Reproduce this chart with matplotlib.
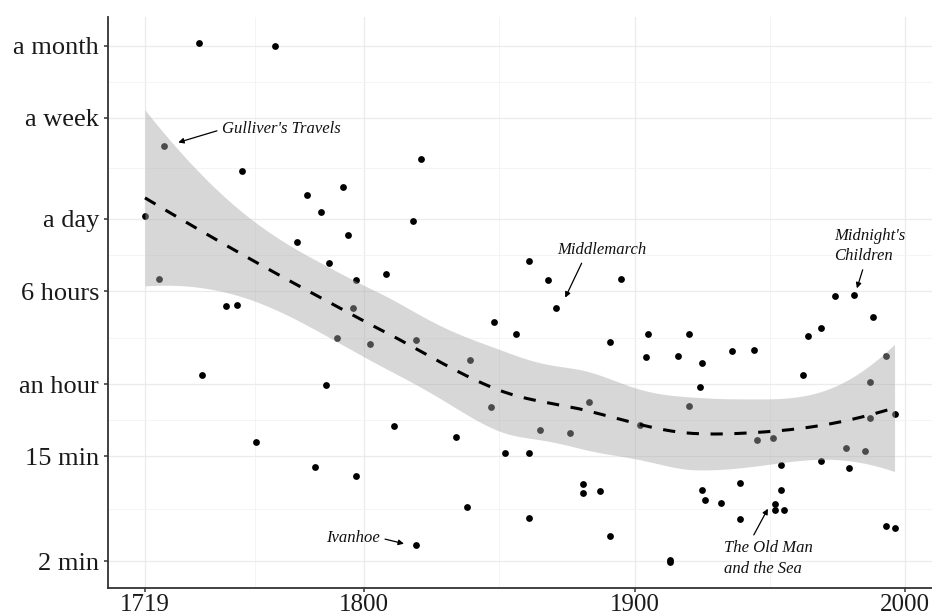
import numpy as np
import matplotlib
matplotlib.use("Agg")
import matplotlib.pyplot as plt
from matplotlib.ticker import FixedLocator, FixedFormatter, NullFormatter

# ---------------- data ----------------
years = [1719, 1724, 1726, 1739, 1740, 1749, 1753, 1755, 1760, 1767,
         1775, 1779, 1782, 1784, 1786, 1787, 1790, 1792, 1794, 1796,
         1797, 1797, 1802, 1808, 1811, 1818, 1819, 1819, 1821, 1834,
         1838, 1839, 1847, 1848, 1852, 1856, 1861, 1861, 1861, 1865,
         1868, 1871, 1876, 1881, 1881, 1883, 1887, 1891, 1891, 1895,
         1902, 1904, 1905, 1913, 1913, 1916, 1920, 1920, 1924, 1925,
         1925, 1926, 1932, 1936, 1939, 1939, 1944, 1945, 1951, 1952,
         1952, 1954, 1954, 1955, 1962, 1964, 1969, 1969, 1974, 1978,
         1979, 1981, 1985, 1987, 1987, 1988, 1993, 1993, 1996, 1996]
minutes = [1520, 455, 5800, 42500, 71, 270, 274, 3610, 19.7, 40100,
           925, 2280, 12.3, 1650, 59.6, 612, 145, 2670, 1050, 262,
           441, 10.3, 130, 496, 26.6, 1380, 141, 2.73, 4570, 21.9,
           5.64, 96, 38.8, 197, 16.1, 157, 641, 16.1, 4.54, 24.9,
           448, 262, 23.4, 8.73, 7.44, 42.2, 7.70, 135, 3.26, 456,
           27.3, 101, 157, 2.03, 1.98, 103, 157, 39.8, 57.3, 90.4,
           7.82, 6.42, 6.09, 113, 8.90, 4.48, 115, 20.6, 21.4, 5.94,
           5.30, 12.7, 7.82, 5.37, 71.8, 151, 177, 13.8, 328, 17.5,
           11.9, 332, 16.5, 63.1, 31.2, 219, 104, 3.95, 33.7, 3.77]

y_ticks = [2, 15, 60, 360, 1440, 10080, 40320]
y_labels = ["2 min", "15 min", "an hour", "6 hours", "a day", "a week", "a month"]
x_ticks = [1719, 1800, 1900, 2000]
x_labels = ["1719", "1800", "1900", "2000"]

# annotations: label, arrow tip (year, minutes), text anchor (year, minutes), alignment, arrow start rel pos
notes = [
    ("Gulliver's Travels", (1731.3, 6270), (1747.6, 8090), "left", (0.0, 0.5)),
    ("Middlemarch", (1874.3, 317), (1887.9, 793), "center", (0.3, 0.0)),
    ("Midnight's\nChildren", (1982.1, 379), (1973.8, 857), "left", (0.42, 0.0)),
    ("Ivanhoe", (1814.7, 2.79), (1805.7, 3.13), "right", (1.0, 0.5)),
    ("The Old Man\nand the Sea", (1949.2, 5.47), (1933.1, 2.1), "left", (0.3, 1.0)),
]


# ---------------- loess (degree 2, span 0.75, kd-tree + cubic interpolation) ----------------
def loess(x, y, xnew, span=0.75, cell=0.2):
    n = len(x)
    q = int(np.floor(n * span))
    fc = int(np.floor(n * span * cell))

    def local_rows(x0):
        d = np.abs(x - x0)
        h = np.sort(d)[q - 1]
        u = np.clip(d / h, 0, 1)
        w = (1 - u ** 3) ** 3
        sc = 100.0
        z = (x - x0) / sc
        X = np.column_stack([np.ones(n), z, z ** 2])
        XtW = X.T * w
        S = np.linalg.solve(XtW @ X, XtW)
        return S[0], S[1] / sc

    xsrt = np.sort(x)
    rng = xsrt[-1] - xsrt[0]
    mu = 0.005 * rng
    lo0, hi0 = xsrt[0] - mu, xsrt[-1] + mu
    verts = {lo0, hi0}

    def split(l, u, a, b):
        if u - l + 1 <= fc:
            return
        m = (l + u) // 2
        off = 0
        found = False
        tried = 0
        while tried < (u - l + 1):
            mm = m + off
            if l <= mm < u and xsrt[mm] != xsrt[mm + 1]:
                m = mm
                found = True
                break
            off = -off
            if off >= 0:
                off += 1
            tried += 1
        if not found:
            return
        t = 0.5 * (xsrt[m] + xsrt[m + 1])
        if t <= a or t >= b:
            return
        verts.add(t)
        split(l, m, a, t)
        split(m + 1, u, t, b)

    split(0, n - 1, lo0, hi0)
    V = np.array(sorted(verts))
    G, D = [], []
    for v in V:
        g, dg = local_rows(v)
        G.append(g)
        D.append(dg)
    G = np.array(G)
    D = np.array(D)

    def op(zs):
        k = np.clip(np.searchsorted(V, zs, side="right") - 1, 0, len(V) - 2)
        v0, v1 = V[k], V[k + 1]
        dv = v1 - v0
        h = (zs - v0) / dv
        phi0 = (1 - h) ** 2 * (1 + 2 * h)
        phi1 = h ** 2 * (3 - 2 * h)
        psi0 = h * (1 - h) ** 2 * dv
        psi1 = -h ** 2 * (1 - h) * dv
        return (phi0[:, None] * G[k] + phi1[:, None] * G[k + 1]
                + psi0[:, None] * D[k] + psi1[:, None] * D[k + 1])

    L = op(x)
    Ls = op(xnew)
    fit = Ls @ y
    R = np.eye(n) - L
    M = R.T @ R
    d1 = np.trace(M)
    d2 = np.trace(M @ M)
    sigma = np.sqrt(np.sum((R @ y) ** 2) / d1)
    se = sigma * np.sqrt(np.sum(Ls ** 2, axis=1))
    df = d1 ** 2 / d2
    zq = 1.959964
    t = zq + (zq ** 3 + zq) / (4 * df) + (5 * zq ** 5 + 16 * zq ** 3 + 3 * zq) / (96 * df ** 2)
    return fit, fit - t * se, fit + t * se


xa = np.array(years, dtype=float)
ya = np.log10(np.array(minutes, dtype=float))
xs = np.linspace(xa.min(), xa.max(), 300)
fit, lo, hi = loess(xa, ya, xs)

# ---------------- figure ----------------
W, H = 932, 614
fig = plt.figure(figsize=(W / 100, H / 100), dpi=100)
ax = fig.add_axes([107.5 / W, (H - 587.5) / H, (W - 107.5) / W, (587.5 - 17) / H])

ax.set_yscale("log")
xr = xa.max() - xa.min()
ax.set_xlim(xa.min() - 0.05 * xr, xa.max() + 0.05 * xr)
lr = ya.max() - ya.min()
ax.set_ylim(10 ** (ya.min() - 0.05 * lr), 10 ** (ya.max() + 0.05 * lr))

# grid
for v in x_ticks:
    ax.axvline(v, color="#EBEBEB", lw=0.9, zorder=0)
for a, b in zip(x_ticks[:-1], x_ticks[1:]):
    ax.axvline((a + b) / 2, color="#F3F3F3", lw=0.6, zorder=0)
for v in y_ticks:
    ax.axhline(v, color="#EBEBEB", lw=0.9, zorder=0)
for a, b in zip(y_ticks[:-1], y_ticks[1:]):
    ax.axhline(np.sqrt(a * b), color="#F3F3F3", lw=0.6, zorder=0)

# points
ax.scatter(years, minutes, s=24, color="black", linewidths=0, zorder=2)
# ribbon (over points, translucent)
ax.fill_between(xs, 10 ** lo, 10 ** hi, color=(0.66, 0.66, 0.66), alpha=0.45,
                linewidth=0, zorder=3)
# smooth line
ax.plot(xs, 10 ** fit, color="black", lw=2.2, linestyle=(0, (4, 3.8)), zorder=4)

# axes styling
for s in ["top", "right"]:
    ax.spines[s].set_visible(False)
for s in ["left", "bottom"]:
    ax.spines[s].set_color("#333333")
    ax.spines[s].set_linewidth(1.3)

serif = ["Liberation Serif", "DejaVu Serif"]
ax.yaxis.set_major_locator(FixedLocator(y_ticks))
ax.yaxis.set_major_formatter(FixedFormatter(y_labels))
ax.yaxis.set_minor_locator(FixedLocator([]))
ax.yaxis.set_minor_formatter(NullFormatter())
ax.set_xticks(x_ticks)
ax.set_xticklabels(x_labels)
ax.tick_params(axis="both", length=3, width=1.1, color="#333333",
               labelcolor="#1a1a1a")
ax.tick_params(axis="y", pad=3, labelsize=19)
ax.tick_params(axis="x", pad=1.5, labelsize=18)
for lab in ax.get_xticklabels() + ax.get_yticklabels():
    lab.set_family(serif)

# annotations
for text, tip, pos, ha, rp in notes:
    ax.annotate(text, xy=tip, xytext=pos, ha=ha, va="center",
                fontsize=12, fontstyle="italic", family=serif, color="#111111",
                linespacing=1.4,
                arrowprops=dict(arrowstyle="-|>", color="black", lw=0.9,
                                mutation_scale=8, shrinkA=2, shrinkB=0,
                                relpos=rp),
                zorder=5)

fig.savefig("out.png", dpi=100, facecolor="white")
